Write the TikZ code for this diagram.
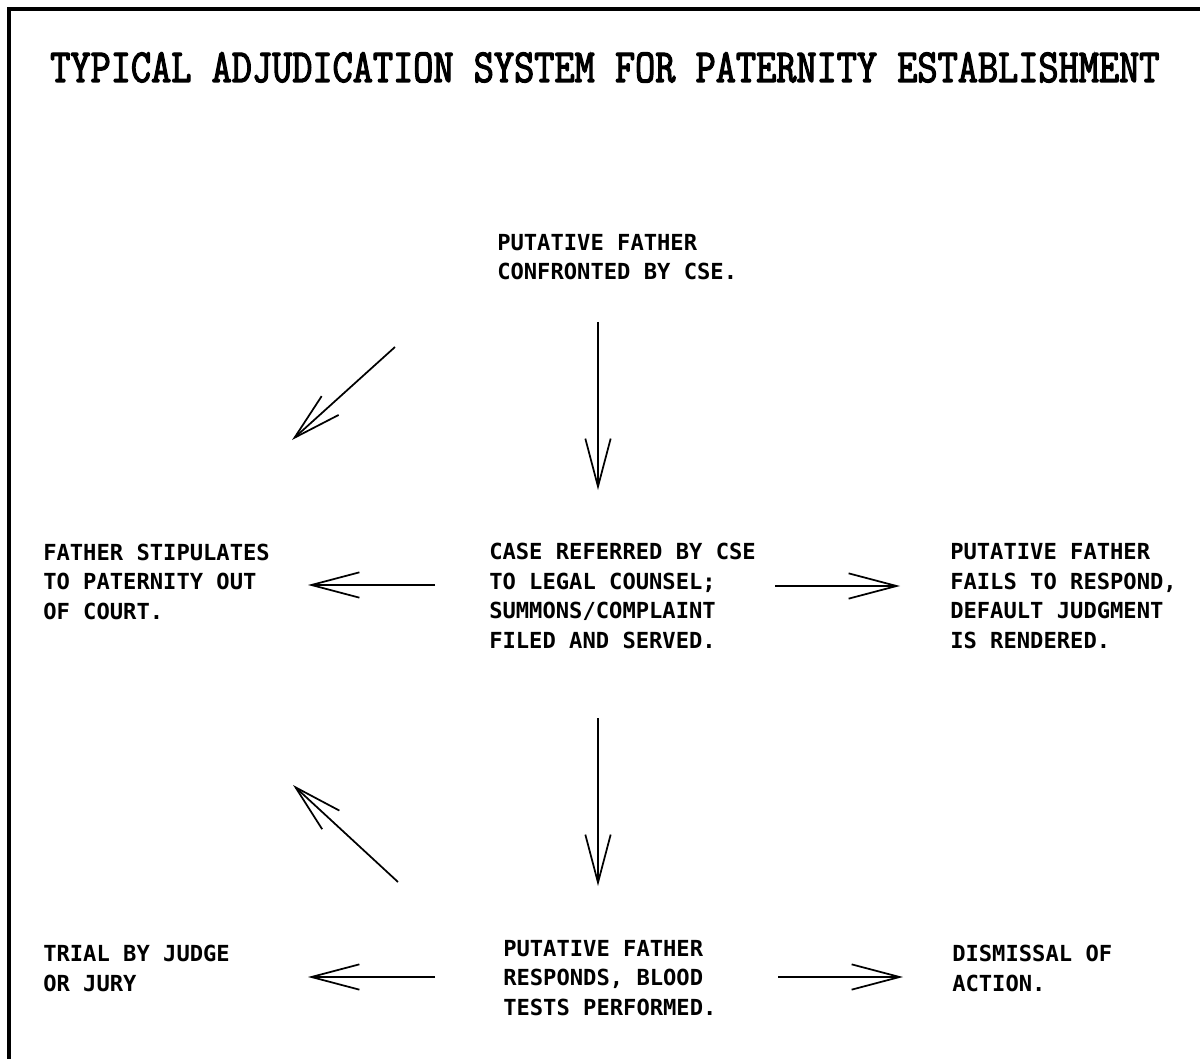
\documentclass[tikz,border=0pt]{standalone}
\usepackage{fontspec}
\usetikzlibrary{arrows.meta}
\newfontfamily\titlefont[FakeStretch=0.825,FakeBold=2.5]{Latin Modern Mono}
\newfontfamily\bodyfont{DejaVu Sans Mono}
\tikzset{
  txt/.style={inner sep=0pt, anchor=base west, align=left,
    font=\bodyfont\bfseries\fontsize{16.6pt}{22.1pt}\selectfont},
  ttl/.style={inner sep=0pt, anchor=base west,
    font=\titlefont\fontsize{35.6pt}{40pt}\selectfont},
  conn/.style={line width=1.3pt, -{Straight Barb[length=36pt,width=19pt,line width=1.3pt]}},
  frame/.style={line width=2.5pt}
}
\begin{document}
\begin{tikzpicture}[x=0.75pt,y=-0.75pt]
\useasboundingbox (0,0) rectangle (1200,1059);
% frame
\draw[frame] (9,1059) -- (9,9) -- (1200,9);
% title
\node[ttl] (title) at (50,82) {TYPICAL ADJUDICATION SYSTEM FOR PATERNITY ESTABLISHMENT};
% texts (anchored at the baseline of their last line)
\node[txt] (top) at (497,280) {PUTATIVE FATHER\\CONFRONTED BY CSE.};
\node[txt] (midL) at (43,619) {FATHER STIPULATES\\TO PATERNITY OUT\\OF COURT.};
\node[txt] (midC) at (489,648) {CASE REFERRED BY CSE\\TO LEGAL COUNSEL;\\SUMMONS/COMPLAINT\\FILED AND SERVED.};
\node[txt] (midR) at (950,648) {PUTATIVE FATHER\\FAILS TO RESPOND,\\DEFAULT JUDGMENT\\IS RENDERED.};
\node[txt] (botL) at (43,991) {TRIAL BY JUDGE\\OR JURY};
\node[txt] (botC) at (503,1015) {PUTATIVE FATHER\\RESPONDS, BLOOD\\TESTS PERFORMED.};
\node[txt] (botR) at (952,991) {DISMISSAL OF\\ACTION.};
% connector end points
\coordinate (c1a) at (598,322); \coordinate (c1b) at (598,490);
\coordinate (d1a) at (395,347); \coordinate (d1b) at (292,440);
\coordinate (l1a) at (435,585); \coordinate (l1b) at (308,585);
\coordinate (r1a) at (775,586); \coordinate (r1b) at (900,586);
\coordinate (c2a) at (598,718); \coordinate (c2b) at (598,886);
\coordinate (d2a) at (398,882); \coordinate (d2b) at (293,785);
\coordinate (l2a) at (435,977); \coordinate (l2b) at (308,977);
\coordinate (r2a) at (778,977); \coordinate (r2b) at (903,977);
% connectors
\draw[conn] (c1a) -- (c1b);
\draw[conn] (d1a) -- (d1b);
\draw[conn] (l1a) -- (l1b);
\draw[conn] (r1a) -- (r1b);
\draw[conn] (c2a) -- (c2b);
\draw[conn] (d2a) -- (d2b);
\draw[conn] (l2a) -- (l2b);
\draw[conn] (r2a) -- (r2b);
\end{tikzpicture}
\end{document}
